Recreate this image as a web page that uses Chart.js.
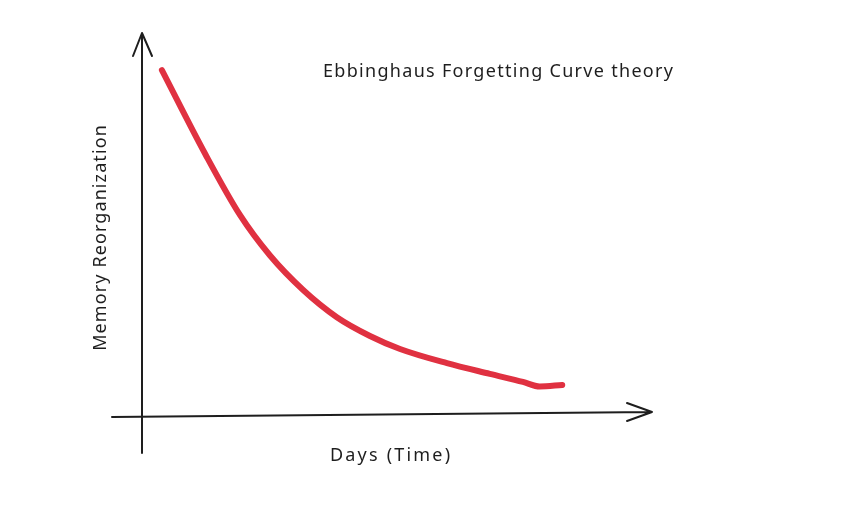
<!DOCTYPE html>
<html>
<head>
<meta charset="utf-8">
<script src="https://cdn.jsdelivr.net/npm/chart.js@4.4.0/dist/chart.umd.min.js"></script>
<style>
  html, body { margin: 0; padding: 0; background: #ffffff; }
  canvas { display: block; }
</style>
</head>
<body>
<canvas id="curva" width="842" height="507"></canvas>
<script>
// datos
const dias = [3.9, 12.4, 19.2, 25.1, 31.6, 38.2, 44.7, 50.6, 59.8, 68.2, 74.7, 78.0, 82.4];
const memoria = [90.3, 68.4, 52.5, 41.9, 32.9, 25.8, 20.9, 17.5, 13.8, 11.0, 8.9, 7.7, 8.1];
const titulo = 'Ebbinghaus Forgetting Curve theory';
const etiquetaX = 'Days (Time)';
const etiquetaY = 'Memory Reorganization';

const fuente = '"Noto Sans", Lato, sans-serif';

function texto(ctx, t, x, y, espacio) {
    ctx.letterSpacing = espacio + 'px';
    ctx.fillText(t, x + espacio / 2, y);
}

const ejes = {
    id: 'ejes',
    beforeDatasetsDraw(chart) {
        const ctx = chart.ctx;
        const x = chart.scales.x;
        const y = chart.scales.y;
        const x0 = x.getPixelForValue(0);
        const y0 = y.getPixelForValue(0);
        const xFin = x.getPixelForValue(100);
        const yFin = y.getPixelForValue(100);
        ctx.save();
        ctx.strokeStyle = '#1e1e1e';
        ctx.lineWidth = 2;
        ctx.lineCap = 'round';
        ctx.lineJoin = 'round';
        // eje vertical
        ctx.beginPath();
        ctx.moveTo(x0, y0 + 37);
        ctx.lineTo(x0, yFin);
        ctx.moveTo(x0 - 9, yFin + 23);
        ctx.lineTo(x0, yFin);
        ctx.lineTo(x0 + 10, yFin + 23);
        // eje horizontal
        ctx.moveTo(x0 - 30, y0 + 1);
        ctx.lineTo(xFin, y0 - 4);
        ctx.moveTo(xFin - 25, y0 - 13);
        ctx.lineTo(xFin, y0 - 4);
        ctx.lineTo(xFin - 25, y0 + 5);
        ctx.stroke();

        ctx.fillStyle = '#1e1e1e';
        ctx.textAlign = 'center';
        ctx.textBaseline = 'middle';
        ctx.font = '18px ' + fuente;
        texto(ctx, titulo, 498, 72, 1.3);
        texto(ctx, etiquetaX, 390, 456, 2.2);
        ctx.translate(101, 238);
        ctx.rotate(-Math.PI / 2);
        texto(ctx, etiquetaY, 0, 0, 1.1);
        ctx.restore();
    }
};

new Chart(document.getElementById('curva'), {
    type: 'line',
    data: {
        datasets: [{
            data: dias.map((d, i) => ({ x: d, y: memoria[i] })),
            borderColor: '#e03141',
            borderWidth: 6,
            borderCapStyle: 'round',
            borderJoinStyle: 'round',
            pointRadius: 0,
            cubicInterpolationMode: 'monotone',
            fill: false
        }]
    },
    options: {
        responsive: false,
        animation: false,
        layout: { padding: { left: 142, right: 190, top: 33, bottom: 91 } },
        plugins: {
            legend: { display: false },
            tooltip: { enabled: false }
        },
        scales: {
            x: { type: 'linear', min: 0, max: 100, display: false },
            y: { type: 'linear', min: 0, max: 100, display: false }
        }
    },
    plugins: [ejes]
});
</script>
</body>
</html>
